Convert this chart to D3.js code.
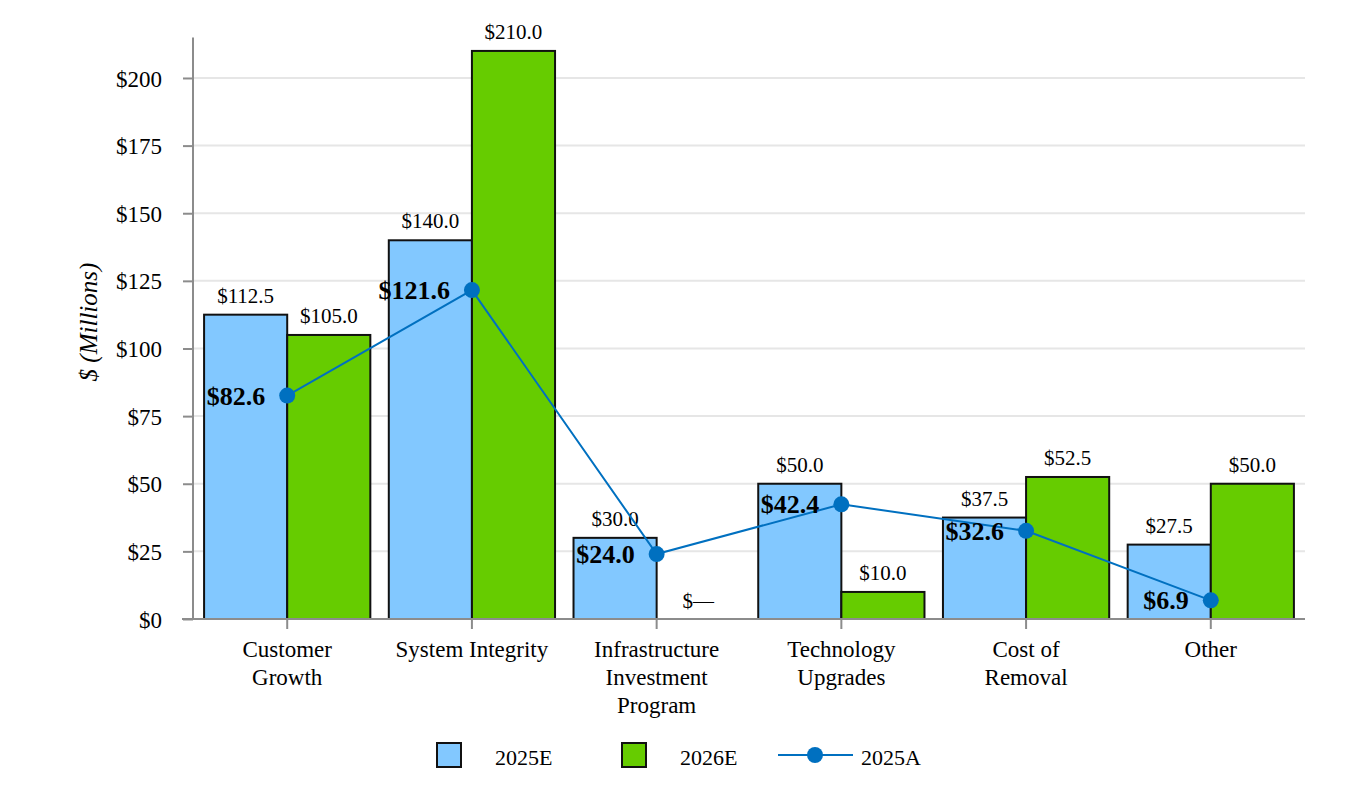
<!DOCTYPE html>
<meta charset="utf-8">
<style>
  body { margin: 0; background: #fff; }
  text { font-family: "Liberation Serif", "Times New Roman", serif; fill: #000; }
  .grid line { stroke: #e6e6e6; stroke-width: 2px; }
  .axis path, .axis line { stroke: #8c8c8c; stroke-width: 2px; }
  .bar { stroke: #111; stroke-width: 2px; }
</style>
<body>
<script src="https://cdn.jsdelivr.net/npm/d3@7"></script>
<script>

  var categories = [["Customer", "Growth"], ["System Integrity"], ["Infrastructure", "Investment", "Program"],
                    ["Technology", "Upgrades"], ["Cost of", "Removal"], ["Other"]];
  var est2025 = [112.5, 140.0, 30.0, 50.0, 37.5, 27.5];
  var est2026 = [105.0, 210.0, 0, 10.0, 52.5, 50.0];
  var act2025 = [82.6, 121.6, 24.0, 42.4, 32.6, 6.9];
  var yTicks = [0, 25, 50, 75, 100, 125, 150, 175, 200];
  var seriesNames = ["2025E", "2026E", "2025A"];
  var color = {"2025E": "#82c8ff", "2026E": "#66cc00", "2025A": "#0070c0"};

  var svg = d3.select("body").append("svg").attr("width", 1368).attr("height", 786);

  var keys = categories.map((d, i) => "c" + i);
  var x = d3.scaleBand().domain(keys).range([193, 1305]).paddingInner(0.1).paddingOuter(0.06);
  var xs = d3.scaleBand().domain(["2025E", "2026E"]).range([0, x.bandwidth()]);
  var y = d3.scaleLinear().domain([0, 215]).range([619, 37.4]);

  // grid
  svg.append("g").attr("class", "grid")
    .selectAll("line").data(yTicks.slice(1)).join("line")
    .attr("x1", 193).attr("x2", 1305)
    .attr("y1", d => y(d)).attr("y2", d => y(d));

  // bars
  var rows = keys.map((k, i) => ({key: k, vals: [["2025E", est2025[i]], ["2026E", est2026[i]]]}));
  var grp = svg.append("g").selectAll("g").data(rows).join("g")
    .attr("transform", d => "translate(" + x(d.key) + ",0)");

  grp.selectAll("rect").data(d => d.vals.filter(v => v[1] > 0)).join("rect")
    .attr("class", "bar")
    .attr("x", v => xs(v[0])).attr("width", xs.bandwidth())
    .attr("y", v => y(v[1])).attr("height", v => y(0) - y(v[1]))
    .attr("fill", v => color[v[0]]);

  grp.selectAll("text").data(d => d.vals).join("text")
    .attr("x", v => xs(v[0]) + xs.bandwidth() / 2)
    .attr("y", v => v[1] > 0 ? y(v[1]) - 12 : y(0) - 11)
    .attr("text-anchor", "middle")
    .style("font-size", "21px")
    .text(v => v[1] > 0 ? "$" + v[1].toFixed(1) : "$\u2014");

  // axes
  var yAxis = svg.append("g").attr("class", "axis")
    .attr("transform", "translate(193,0)")
    .call(d3.axisLeft(y).tickValues(yTicks).tickSize(10).tickSizeOuter(0).tickFormat(d => "$" + d));
  yAxis.select(".domain").attr("d", "M0," + y(0) + "V" + y(215));
  yAxis.selectAll("text").style("font-size", "23px").attr("x", -31).attr("dy", "0.35em");

  var xAxis = svg.append("g").attr("class", "axis")
    .attr("transform", "translate(0,619)")
    .call(d3.axisBottom(x).tickSize(10).tickSizeOuter(0).tickFormat(""));
  xAxis.select(".domain").attr("d", "M182,0H1305");
  xAxis.selectAll(".tick").each(function(d, i) {
    var t = d3.select(this).select("text").style("font-size", "23px").attr("y", 0).attr("dy", null);
    categories[i].forEach((ln, j) => {
      t.append("tspan").attr("x", 0).attr("y", 38 + j * 28).text(ln);
    });
  });

  svg.append("text")
    .attr("transform", "translate(97,322) rotate(-90)")
    .attr("text-anchor", "middle")
    .style("font-size", "25px").style("font-style", "italic")
    .text("$ (Millions)");

  // line
  var cx = (d, i) => x(keys[i]) + x.bandwidth() / 2;
  svg.append("path").datum(act2025)
    .attr("fill", "none").attr("stroke", color["2025A"]).attr("stroke-width", 2)
    .attr("d", d3.line().x(cx).y(d => y(d)));
  svg.append("g").selectAll("circle").data(act2025).join("circle")
    .attr("cx", cx).attr("cy", d => y(d)).attr("r", 8).attr("fill", color["2025A"]);
  svg.append("g").selectAll("text").data(act2025).join("text")
    .attr("x", (d, i) => cx(d, i) - 22).attr("y", d => y(d) + 9)
    .attr("text-anchor", "end")
    .style("font-size", "26px").style("font-weight", "bold")
    .text(d => "$" + d.toFixed(1));

  // legend
  var leg = svg.append("g");
  [["2025E", 437], ["2026E", 622]].forEach(function(s) {
    leg.append("rect").attr("x", s[1]).attr("y", 743).attr("width", 24).attr("height", 24)
      .attr("fill", color[s[0]]).attr("stroke", "#111").attr("stroke-width", 2);
    leg.append("text").attr("x", s[1] + 58).attr("y", 765).style("font-size", "22px").text(s[0]);
  });
  leg.append("line").attr("x1", 778).attr("x2", 853).attr("y1", 755).attr("y2", 755)
    .attr("stroke", color["2025A"]).attr("stroke-width", 2);
  leg.append("circle").attr("cx", 815).attr("cy", 755).attr("r", 8).attr("fill", color["2025A"]);
  leg.append("text").attr("x", 861).attr("y", 765).style("font-size", "22px").text(seriesNames[2]);

</script>
</body>
</html>
